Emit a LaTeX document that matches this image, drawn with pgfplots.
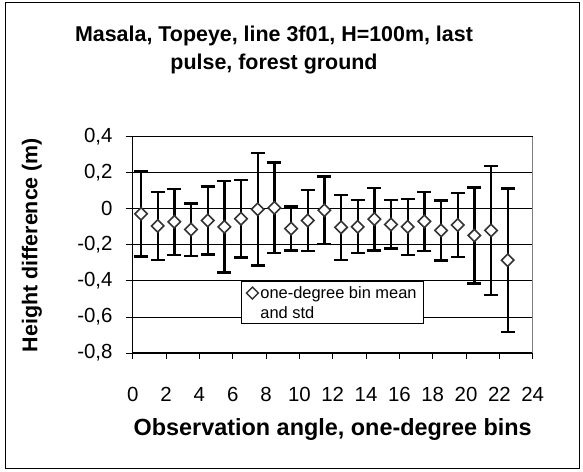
\documentclass[border=0pt]{standalone}
\usepackage{pgfplots}
\pgfplotsset{compat=1.18}
\usepackage{fontspec}
\setmainfont{Liberation Sans}

\pgfplotstableread{
x     y       e
0.5  -0.028  0.237
1.5  -0.095  0.190
2.5  -0.072  0.183
3.5  -0.115  0.145
4.5  -0.065  0.188
5.5  -0.100  0.253
6.5  -0.055  0.215
7.5  -0.003  0.312
8.5   0.005  0.252
9.5  -0.110  0.122
10.5 -0.065  0.168
11.5 -0.008  0.188
12.5 -0.103  0.181
13.5 -0.100  0.147
14.5 -0.057  0.174
15.5 -0.087  0.134
16.5 -0.100  0.156
17.5 -0.070  0.163
18.5 -0.120  0.166
19.5 -0.090  0.178
20.5 -0.148  0.266
21.5 -0.120  0.357
22.5 -0.285  0.398
}\bindata

\begin{document}
\begin{tikzpicture}
\useasboundingbox (0bp,0bp) rectangle (583bp,472bp);
\draw[line width=1bp] (5bp,3bp) rectangle (579.5bp,469.5bp);
\begin{axis}[
  at={(132.7bp,119bp)}, anchor=south west,
  width=400bp, height=216.3bp, scale only axis,
  xmin=0, xmax=24, ymin=-0.8, ymax=0.4,
  xtick={0,2,4,6,8,10,12,14,16,18,20,22,24},
  ytick={-0.8,-0.6,-0.4,-0.2,0,0.2,0.4},
  yticklabels={{-0,8},{-0,6},{-0,4},{-0,2},{0},{0,2},{0,4}},
  /pgf/number format/assume math mode=true,
  axis x line*=bottom, axis y line*=left,
  axis line style={black, line width=1bp, -},
  ymajorgrids=true,
  major grid style={black, line width=0.8bp},
  tick align=center, major tick length=14bp,
  ytick style={black, line width=0.8bp},
  xtick style={draw=none},
  ticklabel style={font=\fontsize{20.5}{24}\selectfont},
  xticklabel style={anchor=base, yshift=-42bp},
  yticklabel style={anchor=east, inner sep=0pt, xshift=-13bp},
  legend style={at={(0.271,0.3333)}, anchor=north west, draw=black, line width=0.8bp,
     fill=white, font=\fontsize{16.5}{19.5}\selectfont, inner xsep=5bp, inner ysep=2bp},
  legend cell align=left,
  legend image code/.code={\draw[mark=square*, mark size=4.2bp, mark options={rotate=45, fill=white, draw=black!80, line width=1.4bp}] plot coordinates {(0.15cm,9.5bp)};},
  clip=false,
]
\addplot[only marks, mark=square*, mark size=4.4bp,
  mark options={rotate=45, fill=white, draw=black!80, line width=1.6bp},
  error bars/.cd, y dir=both, y explicit,
  error bar style={line width=2.3bp, black},
  error mark options={rotate=90, mark size=7bp, line width=2.3bp, black}]
  table[x=x, y=y, y error=e] {\bindata};
\addlegendentry{\begin{tabular}[b]{@{}l@{}}one-degree bin mean\\and std\end{tabular}}
\draw[gray, line width=1bp] (rel axis cs:1,0) -- (rel axis cs:1,1);
\pgfplotsinvokeforeach{0,2,4,6,8,10,12,14,16,18,20,22,24}{
  \draw[black, line width=0.8bp] (axis cs:#1,-0.8) -- ([yshift=-6bp]axis cs:#1,-0.8);
}
\end{axis}
\node[align=center, font=\fontsize{21.5}{29}\bfseries\selectfont] at (274bp,422bp)
  {Masala, Topeye, line 3f01, H=100m, last\\pulse, forest ground};
\node[anchor=base, font=\fontsize{23.5}{27}\bfseries\selectfont] at (332.7bp,37bp)
  {Observation angle, one-degree bins};
\node[rotate=90, font=\fontsize{21.5}{26}\bfseries\selectfont] at (32bp,227bp)
  {Height difference (m)};
\end{tikzpicture}
\end{document}
